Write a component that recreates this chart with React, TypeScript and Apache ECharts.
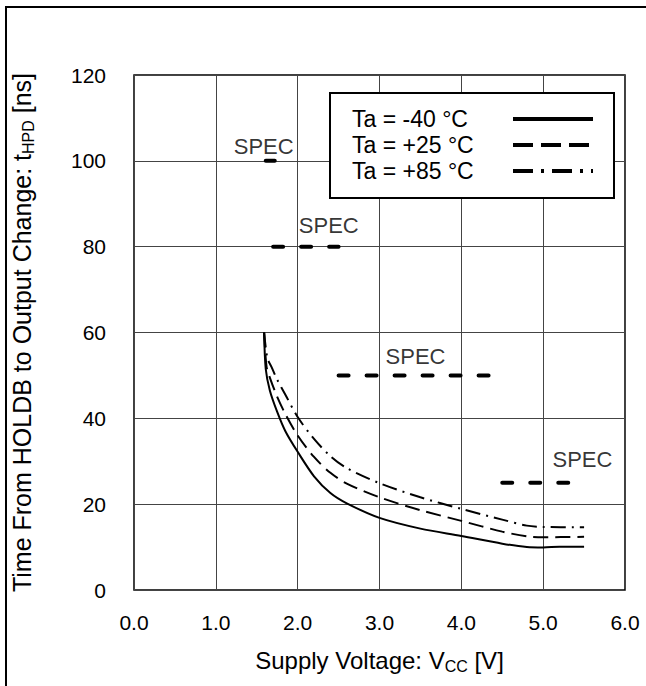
import React, { useEffect, useRef } from "react";
import * as echarts from "echarts";

const FONT = '"Liberation Sans", Arial, sans-serif';

const xTicks = [0, 1, 2, 3, 4, 5, 6];
const yTicks = [0, 20, 40, 60, 80, 100, 120];

const seriesNames = ["Ta = -40 °C", "Ta = +25 °C", "Ta = +85 °C"];

const tMinus40: [number, number][] = [
  [1.59, 60], [1.61, 51.5], [1.66, 46.5], [1.75, 41.5], [1.85, 37], [2.0, 32.2],
  [2.2, 26.5], [2.4, 22.6], [2.6, 20.2], [3.0, 16.8], [3.5, 14.3], [4.0, 12.6],
  [4.5, 10.8], [4.8, 10.0], [5.0, 9.9], [5.2, 10.1], [5.5, 10.1],
];
const tPlus25: [number, number][] = [
  [1.59, 60], [1.62, 52], [1.66, 49.5], [1.75, 45], [1.85, 41], [2.0, 36],
  [2.2, 31], [2.4, 27.3], [2.6, 24.8], [3.0, 21.6], [3.5, 18.6], [4.0, 16.1],
  [4.5, 13.6], [4.8, 12.5], [5.0, 12.3], [5.5, 12.4],
];
const tPlus85: [number, number][] = [
  [1.59, 60], [1.63, 54], [1.68, 52], [1.75, 49], [1.85, 45.5], [2.0, 40.3],
  [2.2, 35.2], [2.4, 31.2], [2.6, 28.4], [3.0, 24.9], [3.5, 21.6], [4.0, 18.9],
  [4.5, 16.4], [4.8, 15.0], [5.0, 14.7], [5.5, 14.6],
];

// SPEC limits: [vStart, vEnd, tHPD]
const specLines: [number, number, number][] = [
  [1.61, 1.72, 100],
  [1.7, 2.5, 80],
  [2.5, 4.37, 50],
  [4.5, 5.33, 25],
];
// SPEC label anchor points [V, ns]
const specLabels: [number, number][] = [
  [1.585, 103.4],
  [2.38, 85],
  [3.44, 54.5],
  [5.48, 30.5],
];

const curveDashes: (number[] | "solid")[] = ["solid", [15, 7], [15, 6, 2, 6]];
const legendDashes: (number[] | "solid")[] = ["solid", [20, 8], [20, 8, 3, 8]];

export default function App() {
  const ref = useRef<HTMLDivElement>(null);
  useEffect(() => {
    document.body.style.margin = "0";
    if (!ref.current) return;
    const chart = echarts.init(ref.current, undefined, { renderer: "svg" });
    const curves = [tMinus40, tPlus25, tPlus85];
    const series: any[] = curves.map((d, i) => ({
      name: seriesNames[i],
      type: "line",
      data: d,
      symbol: "none",
      smooth: 0.3,
      lineStyle: { color: "#000", width: 2, type: curveDashes[i] },
      itemStyle: { color: "#000" },
      z: 3,
    }));
    specLines.forEach((s, i) => {
      series.push({
        name: "spec" + i,
        type: "line",
        data: [[s[0], s[2]], [s[1], s[2]]],
        symbol: "none",
        lineStyle: { color: "#000", width: 4, type: [10, 18], cap: "round" },
        z: 3,
      });
    });
    series.push({
      name: "specLabels",
      type: "scatter",
      data: specLabels,
      symbolSize: 1,
      itemStyle: { color: "rgba(0,0,0,0)" },
      label: {
        show: true,
        position: "inside",
        formatter: "SPEC",
        color: "#000",
        fontSize: 22,
        fontFamily: FONT,
      },
      z: 4,
    });

    const mainStyle = (size: number) => ({
      fontSize: size,
      fontFamily: FONT,
      color: "#000",
      lineHeight: 30,
      verticalAlign: "middle",
    });
    const subStyle = {
      fontSize: 16,
      fontFamily: FONT,
      color: "#000",
      lineHeight: 16,
      padding: [12, 0, 0, 0],
      verticalAlign: "middle",
    };

    chart.setOption({
      animation: false,
      backgroundColor: "#fff",
      grid: {
        left: 133,
        top: 75,
        width: 492,
        height: 515,
        show: true,
        borderColor: "#000",
        borderWidth: 1.5,
        backgroundColor: "transparent",
      },
      legend: {
        data: seriesNames.map((n, i) => ({
          name: n,
          lineStyle: { width: 4, type: legendDashes[i], color: "#000" },
          itemStyle: { color: "rgba(0,0,0,0)", borderWidth: 0, opacity: 0 },
        })),
        formatter: (name: string) => "{t|" + name + "}",
        orient: "vertical",
        left: 330,
        top: 93,
        align: "right",
        itemWidth: 80,
        itemHeight: 14,
        itemGap: 2,
        padding: [14, 19, 15, 22],
        backgroundColor: "#fff",
        borderColor: "#000",
        borderWidth: 2,
        selectedMode: false,
        textStyle: {
          fontSize: 23,
          fontFamily: FONT,
          color: "#000",
          lineHeight: 24,
          rich: {
            t: {
              width: 156,
              align: "left",
              fontSize: 23,
              fontFamily: FONT,
              color: "#000",
              lineHeight: 24,
            },
          },
        },
      },
      xAxis: {
        type: "value",
        min: xTicks[0],
        max: xTicks[xTicks.length - 1],
        interval: 1,
        name: "{m|Supply Voltage: V}{sub|CC}{m| [V]}",
        nameLocation: "middle",
        nameGap: 55,
        nameTextStyle: {
          fontSize: 24,
          fontFamily: FONT,
          color: "#000",
          rich: { m: mainStyle(24), sub: subStyle },
        },
        axisLine: { show: false },
        axisTick: { show: false },
        axisLabel: {
          margin: 22,
          fontSize: 21,
          fontFamily: FONT,
          color: "#000",
          formatter: (v: number) => v.toFixed(1),
        },
        splitLine: { show: true, lineStyle: { color: "#444", width: 1 } },
      },
      yAxis: {
        type: "value",
        min: yTicks[0],
        max: yTicks[yTicks.length - 1],
        interval: 20,
        name: "{m|Time From HOLDB to Output Change: t}{sub|HPD}{m| [ns]}",
        nameLocation: "middle",
        nameGap: 97,
        nameTextStyle: {
          fontSize: 25,
          fontFamily: FONT,
          color: "#000",
          rich: { m: mainStyle(25), sub: subStyle },
        },
        axisLine: { show: false },
        axisTick: { show: false },
        axisLabel: {
          margin: 28,
          fontSize: 21,
          fontFamily: FONT,
          color: "#000",
        },
        splitLine: { show: true, lineStyle: { color: "#444", width: 1 } },
      },
      graphic: [
        {
          type: "rect",
          shape: { x: 6, y: 7, width: 700, height: 720 },
          style: { fill: "none", stroke: "#000", lineWidth: 2 },
          silent: true,
        },
      ],
      series,
    });
    return () => chart.dispose();
  }, []);
  return (
    <div
      ref={ref}
      style={{ position: "absolute", left: 0, top: 0, width: 646, height: 686 }}
    />
  );
}
